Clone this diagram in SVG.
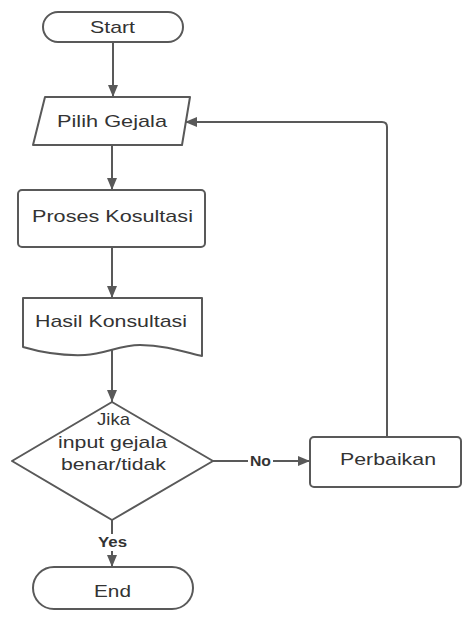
<svg xmlns="http://www.w3.org/2000/svg" width="462" height="617" viewBox="0 0 462 617">
<defs>
<style>
.shape{fill:#fff;stroke:#595959;stroke-width:2;stroke-linejoin:round}
.conn{fill:none;stroke:#595959;stroke-width:2}
.t{font-family:"Liberation Sans",Arial,sans-serif;font-size:17px;fill:#333;text-anchor:middle}
.lbl{font-family:"Liberation Sans",Arial,sans-serif;font-size:14px;font-weight:bold;fill:#333;text-anchor:middle}
</style>
<marker id="arr" markerUnits="userSpaceOnUse" markerWidth="12" markerHeight="10" refX="12" refY="5" orient="auto">
<path d="M0,0 L12,5 L0,10 Z" fill="#595959"/>
</marker>
</defs>
<rect width="462" height="617" fill="#fff"/>
<g id="connectors">
<line class="conn" x1="113" y1="42" x2="113" y2="97" marker-end="url(#arr)"/>
<line class="conn" x1="112" y1="145" x2="112" y2="190" marker-end="url(#arr)"/>
<line class="conn" x1="112" y1="247" x2="112" y2="298" marker-end="url(#arr)"/>
<line class="conn" x1="112" y1="350" x2="112" y2="402" marker-end="url(#arr)"/>
<line class="conn" x1="112" y1="520" x2="112" y2="534"/>
<line class="conn" x1="112" y1="551" x2="112" y2="567" marker-end="url(#arr)"/>
<text class="lbl" x="112.5" y="547" textLength="29" lengthAdjust="spacingAndGlyphs">Yes</text>
<line class="conn" x1="213" y1="461" x2="248" y2="461"/>
<line class="conn" x1="273" y1="461" x2="310" y2="461" marker-end="url(#arr)"/>
<text class="lbl" x="260.5" y="466" textLength="21" lengthAdjust="spacingAndGlyphs">No</text>
<path class="conn" d="M387,437 L387,127 Q387,122 382,122 L185,122" marker-end="url(#arr)"/>
</g>
<g id="start">
<rect class="shape" x="43" y="12" width="140" height="30" rx="15" ry="15"/>
<text class="t" x="112.5" y="33" textLength="45" lengthAdjust="spacingAndGlyphs">Start</text>
</g>
<g id="pilih-gejala">
<path class="shape" d="M45,97 L190,97 L182,145 L33,145 Z"/>
<text class="t" x="112" y="127" textLength="110" lengthAdjust="spacingAndGlyphs">Pilih Gejala</text>
</g>
<g id="proses-kosultasi">
<rect class="shape" x="18" y="190" width="187" height="57" rx="4" ry="4"/>
<text class="t" x="112.5" y="222" textLength="161" lengthAdjust="spacingAndGlyphs">Proses Kosultasi</text>
</g>
<g id="hasil-konsultasi">
<path class="shape" d="M23,298 L202,298 L202,356 C185,352 165,345 140,345 C120,345 105,354 85,355 C60,356 40,352 23,347 Z"/>
<text class="t" x="111" y="327" textLength="152" lengthAdjust="spacingAndGlyphs">Hasil Konsultasi</text>
</g>
<g id="decision">
<path class="shape" d="M112,402 L213,461 L112,520 L12,461 Z"/>
<text class="t" x="113.5" y="425" textLength="33" lengthAdjust="spacingAndGlyphs">Jika</text>
<text class="t" x="112.5" y="448" textLength="109" lengthAdjust="spacingAndGlyphs">input gejala</text>
<text class="t" x="113.5" y="470" textLength="105" lengthAdjust="spacingAndGlyphs">benar/tidak</text>
</g>
<g id="perbaikan">
<rect class="shape" x="310" y="437" width="151" height="50" rx="4" ry="4"/>
<text class="t" x="388" y="465" textLength="96" lengthAdjust="spacingAndGlyphs">Perbaikan</text>
</g>
<g id="end">
<rect class="shape" x="33" y="567" width="160" height="42" rx="21" ry="21"/>
<text class="t" x="112.5" y="597" textLength="37" lengthAdjust="spacingAndGlyphs">End</text>
</g>
</svg>
